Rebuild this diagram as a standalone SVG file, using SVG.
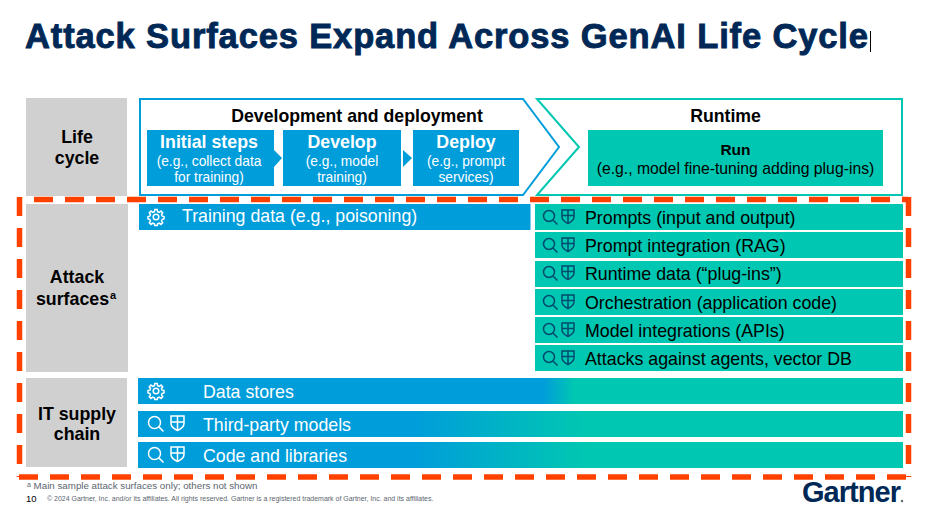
<svg xmlns="http://www.w3.org/2000/svg" width="936" height="521" viewBox="0 0 936 521">
<style>
text{font-family:"Liberation Sans",Arial,sans-serif}
.gl{font-size:17.800px;font-weight:bold;fill:#000;text-anchor:middle}
.hd{font-size:17.700px;font-weight:bold;fill:#000;text-anchor:middle}
.st{font-size:17.800px;font-weight:bold;fill:#fff;text-anchor:middle}
.sub{font-size:13.750px;fill:#fff;text-anchor:middle}
.bw{font-size:17.750px;fill:#fff}
.bk{font-size:17.800px;fill:#000}
.blue{fill:#009ddb}
.teal{fill:#00c7b1}
.gray{fill:#d0d0d0}
.dash{stroke:#ff4100;stroke-width:5.500;fill:none;stroke-dasharray:19 12}
.iw{stroke:#fff;fill:none;stroke-width:1.500}
.id{stroke:#004b6e;fill:none;stroke-width:1.500}
</style>
<defs>
<linearGradient id="g1" gradientUnits="userSpaceOnUse" x1="138" y1="0" x2="903" y2="0"><stop offset="0.53" stop-color="#009ddb"/><stop offset="0.57" stop-color="#00c7b1"/></linearGradient>
<linearGradient id="g2" gradientUnits="userSpaceOnUse" x1="138" y1="0" x2="903" y2="0"><stop offset="0.36" stop-color="#009ddb"/><stop offset="0.585" stop-color="#00c7b1"/></linearGradient>
<g id="search"><circle cx="6" cy="6" r="5.500"/><path d="M10 10L14.500 14.500"/></g>
<g id="searchw"><circle cx="6.500" cy="6.500" r="6"/><path d="M10.900 10.900L15.500 15.500"/></g>
<g id="shield"><path d="M0 1H12V8C12 11 9 13 6 14.500C3 13 0 11 0 8ZM6 1V14.500M0 6.500H12"/></g>
<g id="shieldw"><path d="M0 1H13V8.500C13 12 9.700 14 6.500 15.500C3.300 14 0 12 0 8.500ZM6.500 1V15.500M0 7H13"/></g>
<g id="gear"><circle cx="8" cy="8" r="2.800"/><path d="M6.800 0.500H9.200L9.600 2.600L11.300 3.300L13 2.100L14.700 3.800L13.500 5.500L14.200 7.200L16 7.600V9.900L14.200 10.300L13.500 12L14.700 13.700L13 15.400L11.300 14.200L9.600 14.900L9.200 16.500H6.800L6.400 14.900L4.700 14.200L3 15.400L1.300 13.700L2.500 12L1.800 10.300L0 9.900V7.600L1.800 7.200L2.500 5.500L1.300 3.800L3 2.100L4.700 3.300L6.400 2.600Z"/></g>
</defs>
<rect width="936" height="521" fill="#fff"/>
<g id="title"><text x="25" y="48" font-size="34.500" font-weight="bold" fill="#002856" stroke="#002856" stroke-width="0.900" textLength="843" lengthAdjust="spacing">Attack Surfaces Expand Across GenAI Life Cycle</text><path d="M870.500 31V52" stroke="#000" stroke-width="1"/></g>
<g id="life-cycle"><rect class="gray" x="26" y="98" width="101" height="98"/><text class="gl" x="77" y="143">Life</text><text class="gl" x="77" y="164">cycle</text></g>
<g id="attack-surfaces"><rect class="gray" x="26" y="204" width="102" height="168"/><text class="gl" x="77" y="283">Attack</text><text class="gl" x="72.500" y="305">surfaces</text><text x="110" y="299" font-size="11" font-weight="bold" fill="#000">a</text></g>
<g id="it-supply-chain"><rect class="gray" x="26" y="378" width="101" height="89"/><text class="gl" x="77" y="420">IT supply</text><text class="gl" x="77" y="440">chain</text></g>
<g id="development-deployment"><path d="M140 99H523L559 147L523 195H140Z" fill="none" stroke="#009ddb" stroke-width="2"/><text class="hd" x="357" y="122">Development and deployment</text></g>
<g id="runtime"><path d="M537 99H902V195H537L579 147Z" fill="none" stroke="#00c7b1" stroke-width="2"/><text class="hd" x="725.500" y="122">Runtime</text></g>
<g id="initial-steps"><rect class="blue" x="147" y="130" width="127" height="56"/><text class="st" x="209" y="148">Initial steps</text><text class="sub" x="209" y="166">(e.g., collect data</text><text class="sub" x="209" y="182">for training)</text></g>
<g id="develop"><rect class="blue" x="283" y="130" width="118" height="56"/><text class="st" x="342" y="148">Develop</text><text class="sub" x="342" y="166">(e.g., model</text><text class="sub" x="342" y="182">training)</text></g>
<g id="deploy"><rect class="blue" x="413" y="130" width="106" height="56"/><text class="st" x="466" y="148">Deploy</text><text class="sub" x="466" y="166">(e.g., prompt</text><text class="sub" x="466" y="182">services)</text></g>
<g id="run"><rect class="teal" x="588" y="130" width="295" height="56"/><text x="735.500" y="155" font-size="15.500" font-weight="bold" fill="#000" text-anchor="middle">Run</text><text x="735.500" y="174" font-size="15.750" fill="#000" text-anchor="middle">(e.g., model fine-tuning adding plug-ins)</text></g>
<g id="connectors"><path class="blue" d="M274 150L282 158L274 167Z"/><path class="blue" d="M403 150L412 158L403 167Z"/></g>
<g id="training-data"><rect class="blue" x="139" y="204" width="391.500" height="26"/><use href="#gear" x="148" y="209" class="iw"/><text class="bw" x="182" y="222">Training data (e.g., poisoning)</text></g>
<g id="prompts"><rect class="teal" x="535" y="204" width="368" height="26"/><use href="#search" x="543" y="210" class="id"/><use href="#shield" x="562" y="209" class="id"/><text class="bk" x="585" y="224">Prompts (input and output)</text></g>
<g id="prompt-integration"><rect class="teal" x="535" y="232" width="368" height="26"/><use href="#search" x="543" y="238" class="id"/><use href="#shield" x="562" y="237" class="id"/><text class="bk" x="585" y="252">Prompt integration (RAG)</text></g>
<g id="runtime-data"><rect class="teal" x="535" y="261" width="368" height="26"/><use href="#search" x="543" y="266" class="id"/><use href="#shield" x="562" y="265" class="id"/><text class="bk" x="585" y="280">Runtime data (“plug-ins”)</text></g>
<g id="orchestration"><rect class="teal" x="535" y="289" width="368" height="26"/><use href="#search" x="543" y="295" class="id"/><use href="#shield" x="562" y="294" class="id"/><text class="bk" x="585" y="309">Orchestration (application code)</text></g>
<g id="model-integrations"><rect class="teal" x="535" y="317" width="368" height="26"/><use href="#search" x="543" y="323" class="id"/><use href="#shield" x="562" y="322" class="id"/><text class="bk" x="585" y="337">Model integrations (APIs)</text></g>
<g id="attacks-agents"><rect class="teal" x="535" y="345" width="368" height="26"/><use href="#search" x="543" y="351" class="id"/><use href="#shield" x="562" y="350" class="id"/><text class="bk" x="585" y="365">Attacks against agents, vector DB</text></g>
<g id="data-stores"><rect x="138" y="378" width="765" height="26" fill="url(#g1)"/><use href="#gear" x="148" y="383" class="iw"/><text class="bw" x="203" y="398">Data stores</text></g>
<g id="third-party-models"><rect x="138" y="411" width="765" height="26" fill="url(#g2)"/><use href="#searchw" x="148" y="416" class="iw"/><use href="#shieldw" x="171" y="415" class="iw"/><text class="bw" x="203" y="431">Third-party models</text></g>
<g id="code-libraries"><rect x="138" y="442" width="765" height="26" fill="url(#g2)"/><use href="#searchw" x="148" y="447" class="iw"/><use href="#shieldw" x="171" y="446" class="iw"/><text class="bw" x="203" y="462">Code and libraries</text></g>
<g id="highlight"><path class="dash" d="M34 199.500H908"/><path class="dash" d="M19 477H910"/><path class="dash" d="M19.500 197V477"/><path class="dash" d="M908.500 197V477"/></g>
<g id="footer"><text x="27" y="489" font-size="9.760" fill="#5b6670"><tspan font-size="7" dy="-2">a</tspan><tspan dy="2"> Main sample attack surfaces only; others not shown</tspan></text><text x="26" y="502" font-size="9.500" fill="#000">10</text><text x="47" y="501" font-size="6.980" fill="#5b6670">© 2024 Gartner, Inc. and/or its affiliates. All rights reserved. Gartner is a registered trademark of Gartner, Inc. and its affiliates.</text></g>
<g id="gartner-logo"><text x="802" y="502" font-size="29" font-weight="bold" fill="#002856" textLength="99">Gartner</text><circle cx="902" cy="501" r="1.200" fill="#5b6670"/></g>
</svg>
